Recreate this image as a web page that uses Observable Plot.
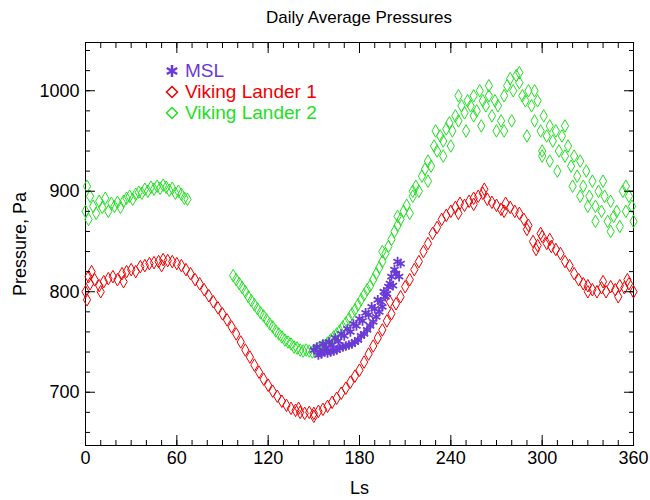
<!DOCTYPE html>
<html><head><meta charset="utf-8">
<script src="https://cdn.jsdelivr.net/npm/d3@7"></script>
<script src="https://cdn.jsdelivr.net/npm/@observablehq/plot@0.6"></script>
<style>
body{margin:0;background:#fff;font-family:"Liberation Sans",Arial,sans-serif}
#wrap{position:relative;width:650px;height:500px}
#title{position:absolute;top:8px;left:85px;width:548px;text-align:center;font-size:17px}
#legend{position:absolute;left:165px;top:60px;font-size:19px;line-height:21px}
#legend svg{vertical-align:-1px;margin-right:6px}
</style></head>
<body>
<div id="wrap">
<div id="graph"></div>
<div id="title">Daily Average Pressures</div>
<div id="legend"></div>
</div>
<script>
const xTicks = [0, 60, 120, 180, 240, 300, 360];
const yTicks = [700, 800, 900, 1000];

// Viking Lander 1
const vl1Ls = [0,3,6,9,12,15,18,21,24,27,30,33,36,39,42,45,48,51,54,57,60,63,66,69,72,75,78,81,84,87,90,93,96,99,102,105,108,111,114,117,120,123,126,129,132,135,138,141,144,147,150,153,156,159,162,165,168,171,174,177,180,183,186,189,192,195,198,201,204,207,210,213,216,219,222,225,228,231,234,237,240,243,246,249,252,255,258,261,264,267,270,273,276,279,282,285,288,291,294,297,300,303,306,309,312,315,318,321,324,327,330,333,336,339,342,345,348,351,354,357,360,
  2,10,25,50,140,150,200,245,255,262,275,290,296,299,305,330,340,350,356,1,4];
const vl1P = [800,808,812,806,810,813,815,812,818,820,822,820,825,826,828,829,830,832,831,830,828,826,822,818,812,808,802,796,790,784,778,772,765,758,750,742,735,727,720,713,707,701,696,691,687,684,682,680,679,680,679,681,683,686,690,694,699,704,710,716,722,730,738,746,754,762,771,778,788,795,805,812,822,830,840,848,858,864,872,876,880,884,888,886,890,887,895,898,892,889,886,882,888,884,880,878,872,866,850,846,855,848,845,842,838,830,826,818,812,808,806,802,800,804,800,805,802,806,804,808,800,
  815,800,810,826,684,676,790,878,893,902,880,862,842,858,852,800,810,795,812,792,820];

// Viking Lander 2
const vl2Ls = [0,1,2,3,5,7,9,11,13,15,17,19,21,23,25,27,29,31,33,35,37,39,41,43,45,47,49,51,53,55,57,59,61,63,65,67,
  97,99,101,103,105,107,109,111,113,115,117,119,121,123,125,127,129,131,133,135,137,139,141,143,145,147,149,151,153,155,157,159,161,163,165,167,169,171,173,175,177,179,181,183,185,187,189,191,193,195,197,199,201,203,205,207,209,211,213,215,217,219,221,223,225,227,229,231,233,235,237,239,241,243,245,247,249,251,253,255,257,259,261,263,265,267,269,271,273,275,277,279,281,283,285,287,289,291,293,295,297,299,301,303,305,307,309,311,313,315,317,319,321,323,325,327,329,331,333,335,337,339,341,343,345,347,349,351,353,355,357,359,360,
  240,250,260,270,280,290,300,310,320,330,245,255,265,275,285,295,305,315,325,335,345,355,230,235,300,340,195,205,215,225];
const vl2P = [880,905,872,895,885,878,890,884,893,880,888,885,889,884,890,893,895,892,897,899,898,902,900,904,902,905,903,906,904,901,903,898,900,897,893,892,
  816,812,808,804,800,795,791,787,783,779,776,772,768,765,761,758,755,752,750,748,745,744,742,741,742,741,740,742,743,745,746,749,752,755,758,761,765,769,773,778,782,787,792,797,802,806,812,818,824,830,838,845,852,860,866,872,880,886,878,895,905,900,915,922,930,925,945,940,955,950,962,968,960,975,970,985,978,990,985,995,980,1000,990,985,995,975,990,985,970,995,1005,1012,1000,1015,1008,995,990,1000,985,970,990,960,975,955,965,950,960,940,955,935,945,925,935,915,930,905,920,895,910,885,900,880,895,870,890,875,880,865,900,880,895,885,870,
  945,960,965,960,970,955,935,920,905,885,995,975,1005,960,1018,1000,930,965,895,870,860,905,960,935,940,910,840,875,900,910];

// MSL
const mslLs = [150,152,154,156,158,160,162,164,166,168,170,172,174,176,178,180,182,184,186,188,190,192,194,196,198,200,202,204,206,207,205,203,201,199,197,195,193,191,189,187,185,183,181,179,177,175,173,171,169,167,165,163,161,159,157,155,153];
const mslP = [742,745,740,748,744,750,747,754,751,758,756,763,760,768,766,773,771,779,777,785,783,792,790,800,798,808,806,818,815,828,830,822,815,805,795,785,780,775,770,766,762,758,756,752,750,748,747,746,745,744,742,741,740,739,741,738,737];

const series = ["MSL", "Viking Lander 1", "Viking Lander 2"];
const colors = ["#6a3ad6", "#f00000", "#22e022"];

const vl1 = vl1Ls.map((d, i) => ({ls: d, p: vl1P[i]}));
const vl2 = vl2Ls.map((d, i) => ({ls: d, p: vl2P[i]}));
const msl = mslLs.map((d, i) => ({ls: d, p: mslP[i]}));

const xMinor = d3.range(0, 361, 10);
const yMinor = d3.range(660, 1041, 20);
const none = () => "";

const chart = Plot.plot({
  width: 650,
  height: 500,
  marginLeft: 85,
  marginRight: 17,
  marginTop: 42,
  marginBottom: 55,
  style: {fontSize: "16px", fontFamily: "Liberation Sans, Arial, sans-serif", color: "#000"},
  x: {domain: [0, 360]},
  y: {domain: [647, 1048]},
  marks: [
    Plot.frame({stroke: "#000"}),
    Plot.dot(vl2, {x: "ls", y: "p", symbol: "diamond", r: 3.8, stroke: colors[2], strokeWidth: 1}),
    Plot.dot(vl1, {x: "ls", y: "p", symbol: "diamond", r: 3.8, stroke: colors[1], strokeWidth: 1}),
    Plot.dot(msl, {x: "ls", y: "p", symbol: "asterisk", r: 4.5, stroke: colors[0], strokeWidth: 1.8}),
    Plot.axisX({ticks: xTicks, tickSize: -10, tickPadding: 16, label: "Ls", labelAnchor: "center", labelArrow: "none", labelOffset: 48}),
    Plot.axisX({ticks: xMinor, tickSize: -5, tickFormat: none, label: null}),
    Plot.axisX({anchor: "top", ticks: xTicks, tickSize: -10, tickFormat: none, label: null}),
    Plot.axisX({anchor: "top", ticks: xMinor, tickSize: -5, tickFormat: none, label: null}),
    Plot.axisY({ticks: yTicks, tickSize: -10, tickPadding: 16, tickFormat: d3.format("d"), label: "Pressure, Pa", labelAnchor: "center", labelArrow: "none", labelOffset: 72}),
    Plot.axisY({ticks: yMinor, tickSize: -5, tickFormat: none, label: null}),
    Plot.axisY({anchor: "right", ticks: yTicks, tickSize: -10, tickFormat: none, label: null}),
    Plot.axisY({anchor: "right", ticks: yMinor, tickSize: -5, tickFormat: none, label: null})
  ]
});
document.getElementById("graph").append(chart);
d3.select(chart).selectAll("[aria-label$='label'] text").style("font-size", "18px");

const icons = [
  '<svg width="14" height="14" viewBox="-7 -7 14 14"><path d="M0,-6V6M-5.2,-3L5.2,3M-5.2,3L5.2,-3" stroke="' + colors[0] + '" stroke-width="2.5"/></svg>',
  '<svg width="14" height="14" viewBox="-7 -7 14 14"><path d="M0,-5.5L5.5,0L0,5.5L-5.5,0Z" fill="none" stroke="' + colors[1] + '" stroke-width="1.5"/></svg>',
  '<svg width="14" height="14" viewBox="-7 -7 14 14"><path d="M0,-5.5L5.5,0L0,5.5L-5.5,0Z" fill="none" stroke="' + colors[2] + '" stroke-width="1.5"/></svg>'
];
document.getElementById("legend").innerHTML = series.map((s, i) =>
  '<div style="color:' + colors[i] + '">' + icons[i] + s + '</div>').join("");
</script>
</body></html>
